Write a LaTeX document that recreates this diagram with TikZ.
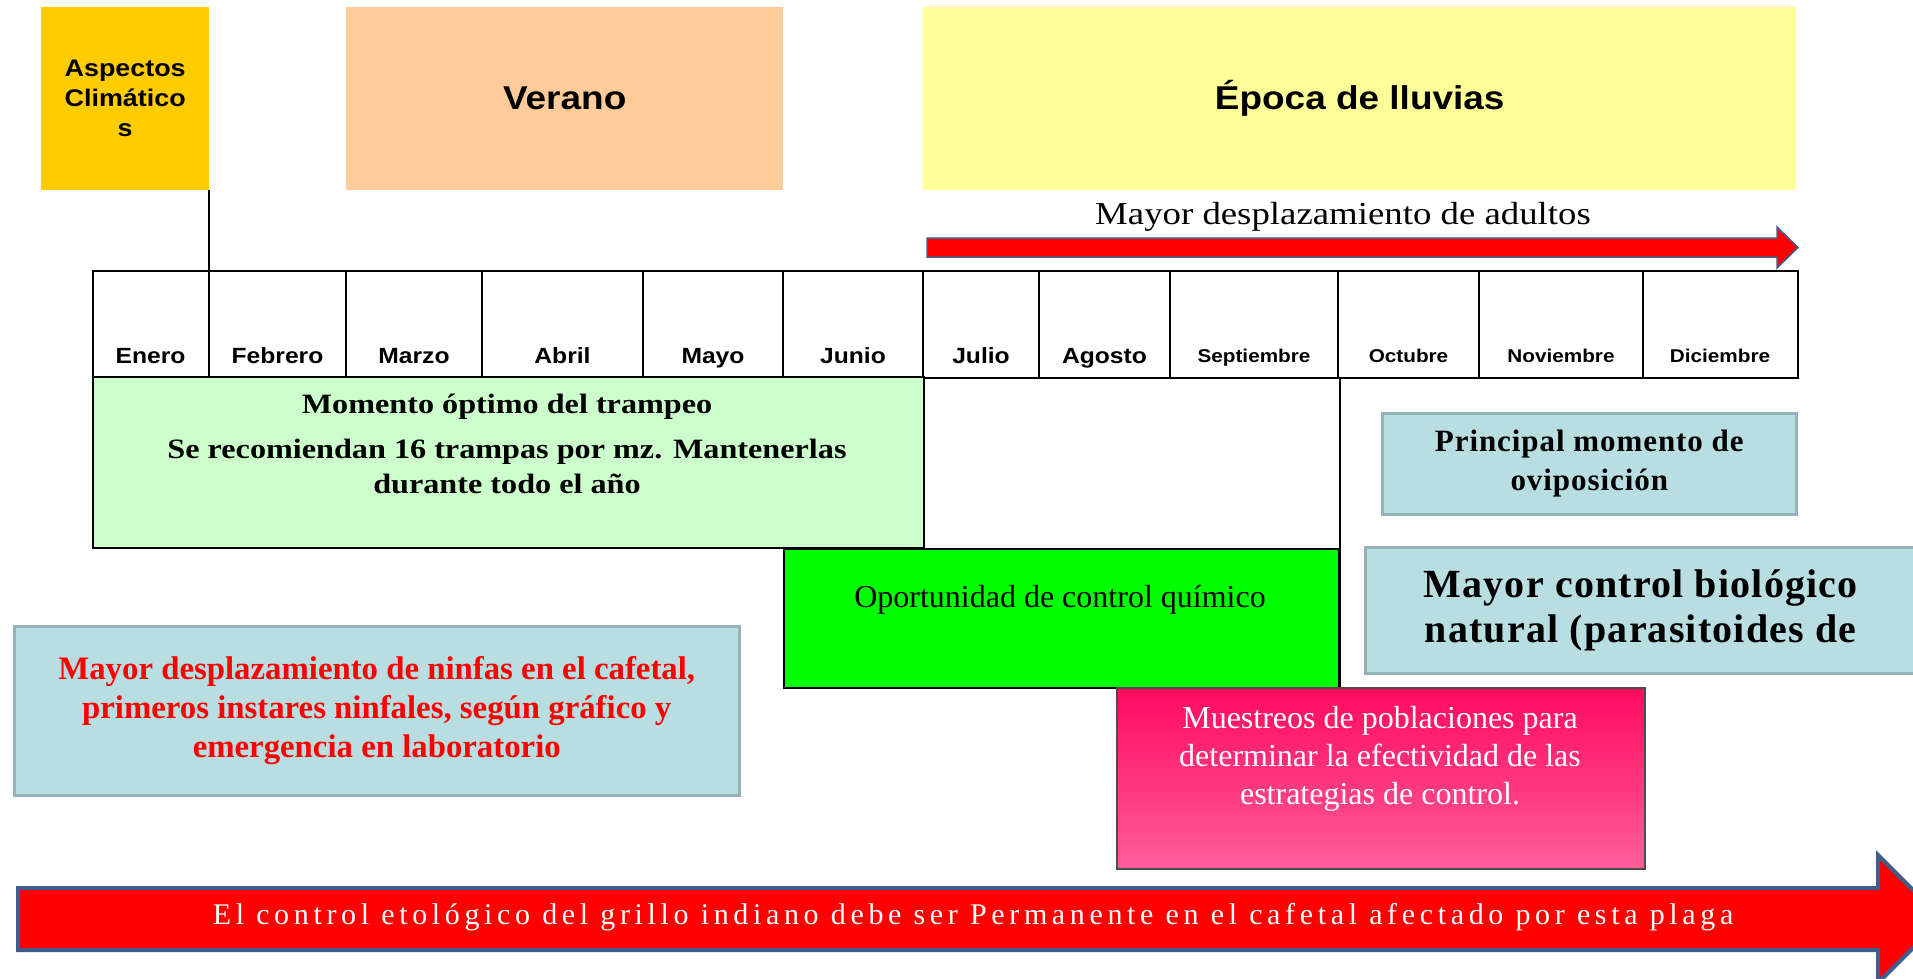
\documentclass[tikz,border=0pt]{standalone}
\usepackage{fontspec}
\setmainfont{Liberation Serif}
\newfontfamily\arialw[FakeStretch=1.12]{Liberation Sans}
\newfontfamily\timesw[FakeStretch=1.15]{Liberation Serif}
\newfontfamily\timessp[LetterSpace=3]{Liberation Serif}
\newfontfamily\timesbar[LetterSpace=15.5]{Liberation Serif}
\newcommand{\tsize}[2]{\fontsize{#1}{#2}\selectfont}

\definecolor{cAspectos}{HTML}{FFCC00}
\definecolor{cVerano}{HTML}{FFCC99}
\definecolor{cEpoca}{HTML}{FFFF99}
\definecolor{cMomento}{HTML}{CCFFCC}
\definecolor{cQuimico}{HTML}{00FF00}
\definecolor{cAzul}{HTML}{B8DEE2}
\definecolor{cAzulBorde}{HTML}{97B3BA}
\definecolor{cBorde}{HTML}{3F5E8C}
\definecolor{cRosaA}{HTML}{FF0A5E}
\definecolor{cRosaB}{HTML}{FF5E9A}

\begin{document}
\begin{tikzpicture}[x=1pt,y=-1pt,
    caja/.style={anchor=north west, inner sep=0pt, align=center},
    nota/.style={caja, fill=cAzul, draw=cAzulBorde, line width=2.5pt},
    mes/.style={anchor=base, font=\arialw\bfseries\tsize{22}{26}},
    mesch/.style={anchor=base, font=\arialw\bfseries\tsize{18.5}{22}}]
\useasboundingbox (0,0) rectangle (1913,979);
\clip (0,0) rectangle (1913,979);
\fill[white] (0,0) rectangle (1913,979);

% estaciones
\node[caja, fill=cAspectos, minimum width=168, minimum height=183,
    font=\arialw\bfseries\tsize{24}{30}] (aspectos) at (41,7) {Aspectos\\Climático\\s};
\node[caja, fill=cVerano, minimum width=437, minimum height=183,
    font=\arialw\bfseries\tsize{33}{40}] (verano) at (346,7) {Verano};
\node[caja, fill=cEpoca, minimum width=873, minimum height=183,
    font=\arialw\bfseries\tsize{33}{40}] (epoca) at (923,7) {Época de lluvias};

% adultos
\node[font=\timesw\tsize{32}{38}] (adultos) at (1343,217) {Mayor desplazamiento de adultos};
\filldraw[fill=red, draw=cBorde, line width=1.5pt] (927,238) -- (1777,238) -- (1777,227)
    -- (1798,247.5) -- (1777,268) -- (1777,257) -- (927,257) -- cycle;

% tabla de meses
\node[caja, draw, line width=2pt, minimum width=1705, minimum height=107] (tabla) at (92,270) {};
\foreach \x in {209,346,482,643,783,923,1039,1170,1338,1479,1643}
    \draw[line width=2pt] (\x,270) -- (\x,377);
\foreach \x/\m in {150.5/Enero,277.5/Febrero,414/Marzo,562.5/Abril,713/Mayo,853/Junio,981/Julio,1104.5/Agosto}
    \node[mes] (m-\m) at (\x,363) {\m};
\foreach \x/\m in {1254/Septiembre,1408.5/Octubre,1561/Noviembre,1720/Diciembre}
    \node[mesch] (m-\m) at (\x,362) {\m};
\draw[line width=2pt] (aspectos.south east) -- (aspectos.south east |- tabla.north);

% cajas
\node[caja, fill=cMomento, draw, line width=1.5pt, minimum width=831, minimum height=171] (momento) at (92,376) {};
\node[align=center, font=\timesw\bfseries\tsize{28}{35}] (trampeo) at (507,444)
    {Momento óptimo del trampeo\\[10pt] Se recomiendan 16 trampas por mz. Mantenerlas\\ durante todo el año};
\node[caja, fill=cQuimico, draw, line width=1.5pt, minimum width=555, minimum height=139] (quimico) at (783,548) {};
\node[font=\tsize{32}{38}] (oportunidad) at (1060,600) {Oportunidad de control químico};
\draw[line width=2pt] (quimico.south east) -- (quimico.south east |- tabla.south);

\node[nota, minimum width=725, minimum height=169, text=red, font=\bfseries\tsize{32.8}{39}] (ninfas) at (13,625)
    {Mayor desplazamiento de ninfas en el cafetal,\\ primeros instares ninfales, según gráfico y\\ emergencia en laboratorio};
\node[nota, minimum width=414, minimum height=101, font=\timessp\bfseries\tsize{31}{39}] (oviposicion) at (1381,412)
    {Principal momento de\\ oviposición};
\node[nota, minimum width=551, minimum height=126, font=\timessp\bfseries\tsize{40}{45}] (biologico) at (1364,546)
    {Mayor control biológico\\ natural (parasitoides de};

\node[caja, top color=cRosaA, bottom color=cRosaB, draw=black!70, line width=1.5pt,
    minimum width=528, minimum height=181] (muestreo) at (1116,687) {};
\node[align=center, text=white, font=\tsize{32}{38}] (estrategias) at (1380,759)
    {Muestreos de poblaciones para\\ determinar la efectividad de las\\ estrategias de control.};

% flecha inferior
\filldraw[fill=red, draw=cBorde, line width=4pt] (18,888) -- (1878,888) -- (1878,855)
    -- (1942,919) -- (1878,983) -- (1878,950) -- (18,950) -- cycle;
\node[text=white, font=\timesbar\tsize{30}{36}] (etologico) at (973,917)
    {El control etológico del grillo indiano debe ser Permanente en el cafetal afectado por esta plaga};
\end{tikzpicture}
\end{document}
